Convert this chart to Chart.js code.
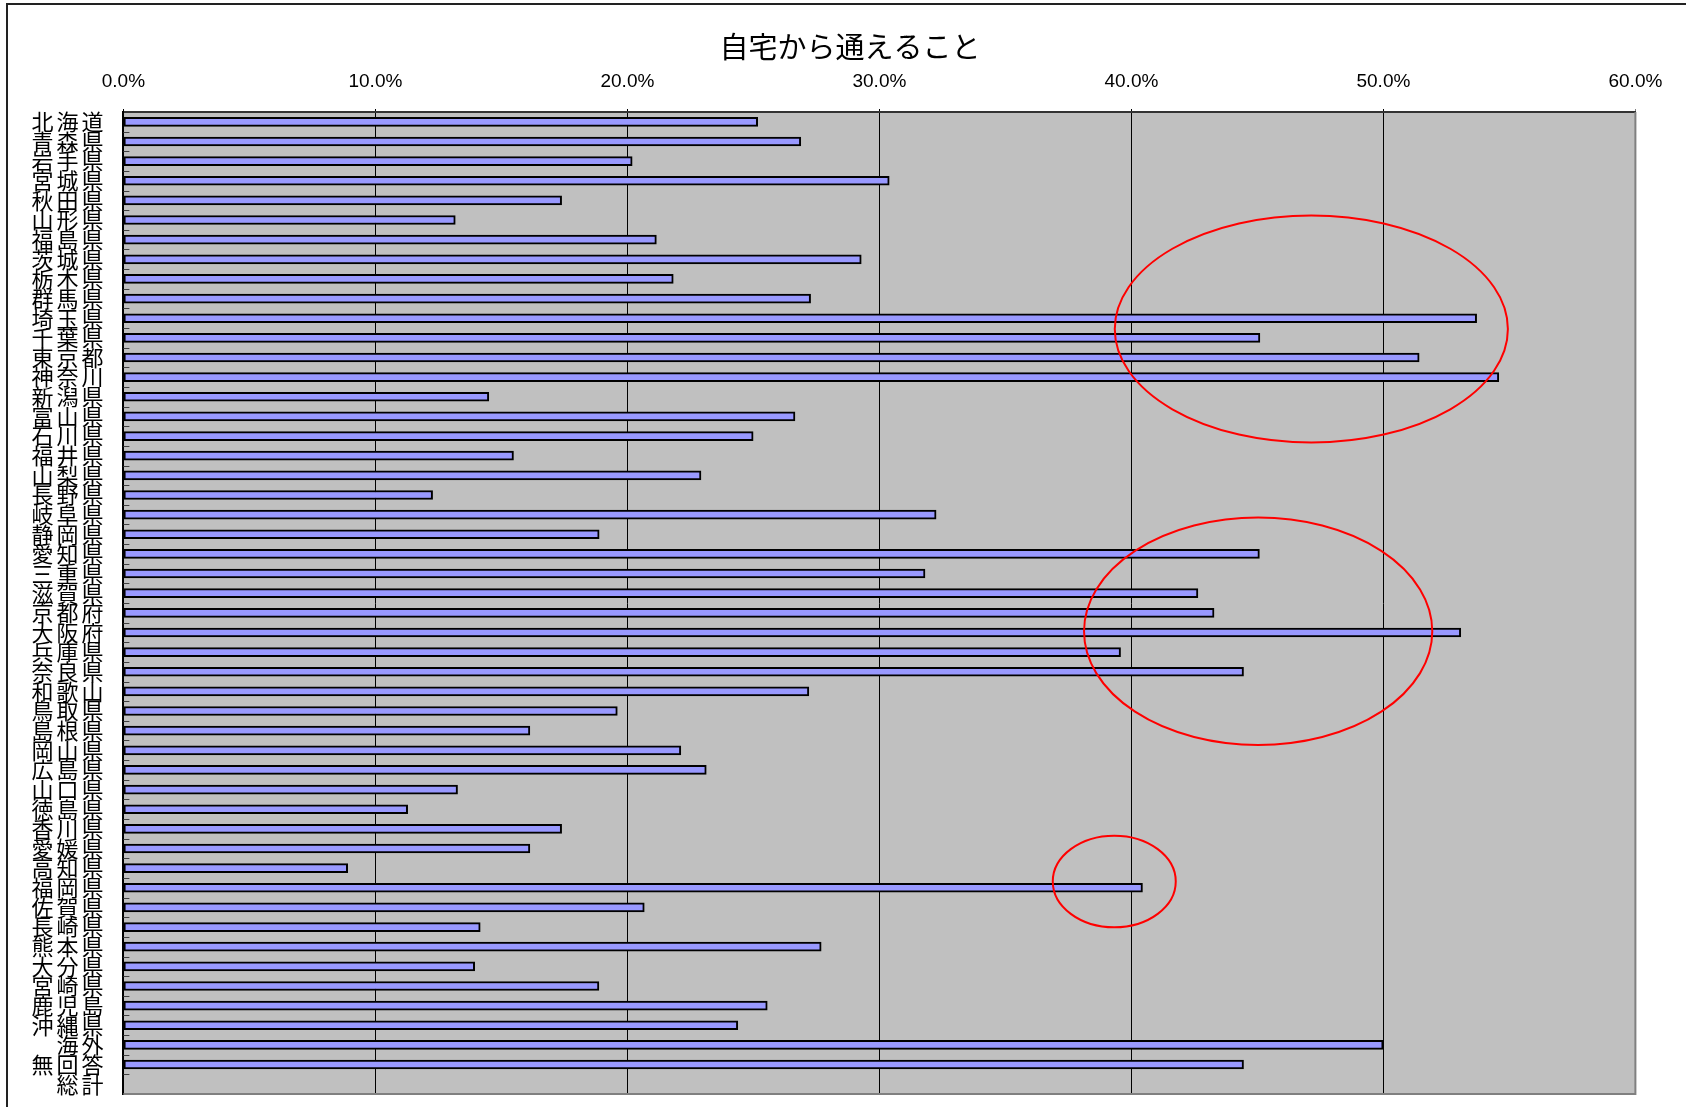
<!DOCTYPE html>
<html lang="ja">
<head>
    <meta charset="UTF-8">
    <title>自宅から通えること</title>
    <style>
        html, body { margin: 0; padding: 0; background: #fff; overflow: hidden; }
        #frame {
            position: absolute; left: 6px; top: 3px; right: -10px; bottom: -10px;
            border-top: 2px solid #222; border-left: 2px solid #222;
        }
        #chart { position: absolute; left: 0; top: 0; }
    </style>
</head>
<body>
    <div id="frame"></div>
    <canvas id="chart" width="1686" height="1107"></canvas>

    <script src="https://cdn.jsdelivr.net/npm/chart.js@4.4.0/dist/chart.umd.min.js"></script>
    <script>
        var chartTitle = '自宅から通えること';

        var regions = [
            '北海道', '青森県', '岩手県', '宮城県', '秋田県', '山形県', '福島県', '茨城県', '栃木県', '群馬県',
            '埼玉県', '千葉県', '東京都', '神奈川', '新潟県', '富山県', '石川県', '福井県', '山梨県', '長野県',
            '岐阜県', '静岡県', '愛知県', '三重県', '滋賀県', '京都府', '大阪府', '兵庫県', '奈良県', '和歌山',
            '鳥取県', '島根県', '岡山県', '広島県', '山口県', '徳島県', '香川県', '愛媛県', '高知県', '福岡県',
            '佐賀県', '長崎県', '熊本県', '大分県', '宮崎県', '鹿児島', '沖縄県', '海外', '無回答', '総計'
        ];

        // percent of answers per region (総計 has no bar)
        var shares = [
            25.17, 26.88, 20.19, 30.39, 17.39, 13.17, 21.15, 29.28, 21.82, 27.27,
            53.70, 45.10, 51.42, 54.58, 14.50, 26.65, 24.99, 15.48, 22.92, 12.27,
            32.25, 18.88, 45.08, 31.81, 42.64, 43.28, 53.07, 39.57, 44.45, 27.20,
            19.60, 16.13, 22.12, 23.13, 13.26, 11.28, 17.39, 16.13, 8.90, 40.44,
            20.67, 14.16, 27.69, 13.94, 18.87, 25.55, 24.38, 49.99, 44.45, null
        ];

        var axisTicks = [0, 10, 20, 30, 40, 50, 60];

        // red rings: centre value (%), centre row index, radius in %, radius in rows
        var ringCenterValue = [47.14, 45.03, 39.32];
        var ringCenterRow   = [10.55, 25.94, 38.68];
        var ringRadiusValue = [7.80, 6.91, 2.44];
        var ringRadiusRows  = [5.78, 5.79, 2.33];

        var plotBackground = {
            id: 'plotBackground',
            beforeDraw: function (chart) {
                var a = chart.chartArea, ctx = chart.ctx;
                ctx.save();
                ctx.fillStyle = '#C0C0C0';
                ctx.fillRect(a.left, a.top, a.right - a.left, a.bottom - a.top);
                ctx.restore();
            },
            afterDatasetsDraw: function (chart) {
                var a = chart.chartArea, ctx = chart.ctx, y = chart.scales.y;
                ctx.save();
                // right and bottom edge of the plot
                ctx.strokeStyle = '#808080';
                ctx.lineWidth = 2;
                ctx.beginPath();
                ctx.moveTo(a.right, a.top);
                ctx.lineTo(a.right, a.bottom);
                ctx.lineTo(a.left, a.bottom);
                ctx.stroke();
                // short inward ticks between the rows
                ctx.strokeStyle = '#404040';
                ctx.lineWidth = 1;
                ctx.beginPath();
                for (var i = 1; i < regions.length; i++) {
                    var py = Math.round((y.getPixelForValue(i - 1) + y.getPixelForValue(i)) / 2) + 0.5;
                    ctx.moveTo(a.left, py);
                    ctx.lineTo(a.left + 6, py);
                }
                ctx.stroke();
                ctx.restore();
            }
        };

        var rings = {
            id: 'rings',
            afterDraw: function (chart) {
                var x = chart.scales.x, y = chart.scales.y, ctx = chart.ctx;
                var rowStep = y.getPixelForValue(1) - y.getPixelForValue(0);
                ctx.save();
                ctx.strokeStyle = '#FF0000';
                ctx.lineWidth = 2;
                for (var i = 0; i < ringCenterValue.length; i++) {
                    var cx = x.getPixelForValue(ringCenterValue[i]);
                    var cy = y.getPixelForValue(0) + ringCenterRow[i] * rowStep;
                    var rx = x.getPixelForValue(ringCenterValue[i] + ringRadiusValue[i]) - cx;
                    var ry = ringRadiusRows[i] * rowStep;
                    ctx.beginPath();
                    ctx.ellipse(cx, cy, rx, ry, 0, 0, Math.PI * 2);
                    ctx.stroke();
                }
                ctx.restore();
            }
        };

        // wider character pitch for the region names, and let them run
        // past the left edge of the (narrow) axis box
        var labelSpacing = {
            id: 'labelSpacing',
            beforeDraw: function (chart) {
                var scale = chart.scales.y;
                if (!scale || scale._spaced) return;
                var orig = scale.drawLabels.bind(scale);
                scale._computeLabelArea = function () { return undefined; };
                scale.drawLabels = function (area) {
                    var ctx = chart.ctx;
                    ctx.save();
                    ctx.letterSpacing = '3px';
                    orig(area);
                    ctx.restore();
                };
                scale._spaced = true;
            }
        };

        function createChart() {
            var ctx = document.getElementById('chart').getContext('2d');
            Chart.defaults.font.family = '"Noto Sans CJK JP", "Noto Sans", sans-serif';
            Chart.defaults.color = '#000';

            return new Chart(ctx, {
                type: 'bar',
                data: {
                    labels: regions,
                    datasets: [{
                        data: shares,
                        backgroundColor: '#9999FF',
                        borderColor: '#000000',
                        borderWidth: 2,
                        borderSkipped: false,
                        barThickness: 9
                    }]
                },
                options: {
                    indexAxis: 'y',
                    responsive: false,
                    animation: false,
                    layout: { padding: { left: 64.6, right: 50.6, top: 0, bottom: 13 } },
                    plugins: {
                        legend: { display: false },
                        tooltip: { enabled: false },
                        title: {
                            display: true,
                            text: chartTitle,
                            color: '#000',
                            font: { size: 29, weight: 'normal', lineHeight: 1.2 },
                            padding: { top: 30, bottom: 0 }
                        }
                    },
                    scales: {
                        x: {
                            position: 'top',
                            min: axisTicks[0],
                            max: axisTicks[axisTicks.length - 1],
                            afterBuildTicks: function (scale) {
                                scale.ticks = axisTicks.map(function (v) { return { value: v }; });
                            },
                            afterFit: function (scale) {
                                scale.height = 112 - 30 - 29 * 1.2;
                                scale.paddingLeft = 0;
                                scale.paddingRight = 0;
                            },
                            ticks: {
                                padding: 16,
                                font: { family: '"Liberation Sans", Arial, sans-serif', size: 19 },
                                callback: function (v) { return Number(v).toFixed(1) + '%'; }
                            },
                            grid: {
                                drawOnChartArea: true,
                                drawTicks: true,
                                tickLength: 3,
                                lineWidth: 1,
                                color: function (c) {
                                    return c.tick && c.tick.value === 60 ? '#808080' : '#000000';
                                }
                            },
                            border: { display: true, color: '#333333', width: 2 }
                        },
                        y: {
                            position: 'left',
                            afterFit: function (scale) {
                                scale.width = 123.4 - 64.6;
                                scale.paddingTop = 0;
                                scale.paddingBottom = 0;
                            },
                            ticks: {
                                padding: 17,
                                autoSkip: false,
                                font: { size: 22 }
                            },
                            grid: { display: false, drawTicks: false },
                            border: { display: true, color: '#000000', width: 2 }
                        }
                    }
                },
                plugins: [plotBackground, rings, labelSpacing]
            });
        }

        var chart = createChart();
        chart.draw();
    </script>
</body>
</html>
